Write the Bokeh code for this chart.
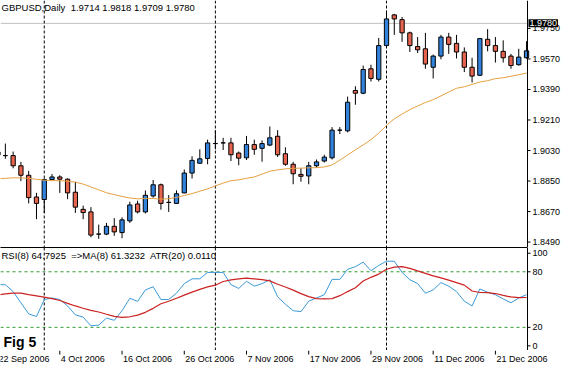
import pandas as pd
from bokeh.plotting import figure
from bokeh.layouts import column
from bokeh.models import Range1d, FixedTicker, Span, Label, LinearAxis, ColumnDataSource
from bokeh.embed import file_html
from bokeh.resources import INLINE
from bokeh.core.properties import value

# ---------------- data ----------------
dates = pd.bdate_range("2006-09-22", "2006-12-27")

opens = [1.9020, 1.9000, 1.9000, 1.8940, 1.8884, 1.8756,
         1.8741, 1.8859, 1.8874, 1.8861, 1.8784, 1.8683, 1.8668, 1.8537, 1.8537, 1.8583,
         1.8546, 1.8615, 1.8715, 1.8668, 1.8762, 1.8828, 1.8724, 1.8718, 1.8780, 1.8897,
         1.8955, 1.8983, 1.9071, 1.9075, 1.9075, 1.9015, 1.8987, 1.9065, 1.9043, 1.9062,
         1.9114, 1.9011, 1.8949, 1.8889, 1.8880, 1.8940, 1.8968, 1.8987, 1.9150, 1.9146,
         1.9384, 1.9368, 1.9512, 1.9450, 1.9649, 1.9830, 1.9802, 1.9724, 1.9643, 1.9630,
         1.9521, 1.9587, 1.9699, 1.9662, 1.9611, 1.9521, 1.9474, 1.9686, 1.9649, 1.9615,
         1.9587, 1.9536, 1.9577]
highs = [1.9060, 1.9071, 1.9024, 1.8963, 1.8910, 1.8780,
         1.8865, 1.8891, 1.8884, 1.8865, 1.8846, 1.8705, 1.8696, 1.8593, 1.8603, 1.8631,
         1.8636, 1.8728, 1.8734, 1.8794, 1.8856, 1.8835, 1.8767, 1.8795, 1.8918, 1.8996,
         1.9037, 1.9094, 1.9150, 1.9105, 1.9105, 1.9024, 1.9116, 1.9094, 1.9090, 1.9172,
         1.9150, 1.9049, 1.8963, 1.8925, 1.8963, 1.8977, 1.9005, 1.9168, 1.9168, 1.9348,
         1.9409, 1.9531, 1.9536, 1.9694, 1.9855, 1.9836, 1.9818, 1.9731, 1.9699, 1.9724,
         1.9596, 1.9712, 1.9724, 1.9712, 1.9638, 1.9577, 1.9694, 1.9746, 1.9699, 1.9680,
         1.9600, 1.9630, 1.9675]
lows = [1.8985, 1.8981, 1.8925, 1.8850, 1.8718, 1.8625,
        1.8662, 1.8856, 1.8780, 1.8743, 1.8662, 1.8625, 1.8518, 1.8509, 1.8531, 1.8527,
        1.8513, 1.8603, 1.8659, 1.8659, 1.8752, 1.8681, 1.8668, 1.8715, 1.8778, 1.8865,
        1.8953, 1.8949, 1.9037, 1.9033, 1.8968, 1.8943, 1.8974, 1.9005, 1.8964, 1.9056,
        1.8992, 1.8940, 1.8831, 1.8846, 1.8831, 1.8930, 1.8959, 1.8977, 1.9127, 1.9137,
        1.9300, 1.9362, 1.9437, 1.9437, 1.9643, 1.9712, 1.9671, 1.9611, 1.9605, 1.9512,
        1.9455, 1.9568, 1.9600, 1.9573, 1.9493, 1.9431, 1.9469, 1.9615, 1.9549, 1.9549,
        1.9512, 1.9531, 1.9572]
closes = [1.9005, 1.9000, 1.8940, 1.8884, 1.8752, 1.8718,
          1.8859, 1.8874, 1.8861, 1.8780, 1.8696, 1.8664, 1.8531, 1.8537, 1.8583, 1.8550,
          1.8621, 1.8709, 1.8668, 1.8766, 1.8828, 1.8718, 1.8724, 1.8775, 1.8897, 1.8972,
          1.8981, 1.9075, 1.9071, 1.9075, 1.9005, 1.8985, 1.9065, 1.9037, 1.9071, 1.9105,
          1.9005, 1.8949, 1.8893, 1.8878, 1.8940, 1.8963, 1.8991, 1.9150, 1.9150, 1.9315,
          1.9368, 1.9508, 1.9455, 1.9649, 1.9806, 1.9806, 1.9724, 1.9649, 1.9624, 1.9540,
          1.9587, 1.9699, 1.9656, 1.9611, 1.9521, 1.9469, 1.9690, 1.9649, 1.9615, 1.9577,
          1.9531, 1.9581, 1.9618]
price_ma = [1.8863, 1.8866, 1.8869, 1.8869, 1.8866, 1.8860,
            1.8855, 1.8852, 1.8852, 1.8849, 1.8843, 1.8832, 1.8815, 1.8798, 1.8781, 1.8770,
            1.8759, 1.8750, 1.8745, 1.8748, 1.8747, 1.8743, 1.8746, 1.8753, 1.8765, 1.8776,
            1.8790, 1.8804, 1.8821, 1.8838, 1.8852, 1.8857, 1.8866, 1.8874, 1.8891, 1.8908,
            1.8916, 1.8922, 1.8925, 1.8926, 1.8928, 1.8929, 1.8933, 1.8945, 1.8973, 1.9004,
            1.9034, 1.9063, 1.9094, 1.9133, 1.9178, 1.9217, 1.9245, 1.9271, 1.9293, 1.9313,
            1.9330, 1.9352, 1.9375, 1.9397, 1.9406, 1.9420, 1.9434, 1.9442, 1.9454, 1.9459,
            1.9468, 1.9477, 1.9487]
rsi = [66, 66, 58.6, 46.5, 34.5, 31.7,
       50, 51.7, 50, 43.1, 33.5, 31, 21.7, 22.4, 30, 27.6,
       38, 51.4, 48, 60.4, 63.8, 50, 50, 56.9, 67.2, 72.4,
       72.4, 79.3, 79.3, 79.3, 66.2, 62, 69.7, 64.5, 67.2, 71.4,
       53, 44.9, 38, 36.9, 48.3, 51.7, 55.2, 71.8, 71.8, 82.7,
       85.5, 90.4, 81.1, 86.9, 91.4, 91.4, 79.3, 71.4, 67.2, 56.9,
       60.4, 68.3, 64.5, 58.6, 48.3, 43.1, 61.4, 57.9, 55.2, 50.7,
       46.5, 51.7, 55.2]
rsi_ma = [55, 56.1, 56.9, 56.9, 55.4, 54,
          52.6, 51, 49, 45.9, 43.1, 40.6, 38.4, 36.6, 34.1, 31.8,
          30.8, 31.4, 33.2, 36.2, 40.5, 45.5, 48.2, 51.4, 54.8, 58,
          61, 63.7, 65.5, 69.5, 71.3, 72.4, 73.1, 72.4, 71.5, 70.2,
          66.5, 63.6, 60.2, 56.4, 53.2, 51, 50.7, 51, 54.2, 58.6,
          62.8, 70, 74, 77.5, 82.7, 85, 85.5, 83.6, 81, 78.3,
          75.6, 73.4, 71, 68.3, 65.6, 59.2, 57.6, 57.4, 56.5, 54.5,
          52.8, 52, 52.2]

price_ticks = [1.8490, 1.8670, 1.8850, 1.9030, 1.9210, 1.9390, 1.9570, 1.9750]
rsi_ticks = [0, 20, 80, 100]
rsi_levels = [20, 80]
last_price = 1.9780
header = "GBPUSD,Daily\u00a0 1.9714 1.9818 1.9709 1.9780"
rsi_header = "RSI(8) 64.7925\u00a0 =>MA(8) 61.3232\u00a0 ATR(20) 0.0110"
fig_caption = "Fig 5"
label_every = 8

# ---------------- styling / geometry ----------------
FONT = "Liberation Sans"
BULL, BEAR, DOJI = "#3282DC", "#E6644E", "#000000"
FW, W_ALL = 527, 561        # plotting width (up to price axis), full width
H1, H2, H3 = 247, 103, 14
X0, X1 = 0.375, 68.125      # visible bar span up to the price axis
XE = X0 + (X1 - X0) * W_ALL / FW
PX = (X1 - X0) / FW         # one pixel in bar units
Y1 = (1.8458, 1.99148)
Y2 = (-5.0, 106.2)

n = len(dates)
xs = list(range(n))
body_top = [max(o, c) for o, c in zip(opens, closes)]
body_bot = [min(o, c) for o, c in zip(opens, closes)]
colors = [BULL if c > o else (BEAR if c < o else DOJI) for o, c in zip(opens, closes)]
src = ColumnDataSource(dict(x=xs, high=highs, low=lows, top=body_top, bottom=body_bot,
                            color=colors, ma=price_ma, rsi=rsi, rsi_ma=rsi_ma))

month_starts = [i for i in range(1, n) if dates[i].month != dates[i - 1].month]
tick_idx = list(range(0, n, label_every))
tick_txt = [f"{dates[i].day} {dates[i].strftime('%b %Y')}" for i in tick_idx]

xr = Range1d(X0, XE)


def base_fig(fh, y_range):
    f = figure(frame_width=W_ALL, frame_height=fh, x_range=xr, y_range=y_range,
               output_backend="svg", toolbar_location=None,
               x_axis_location=None, y_axis_location=None,
               min_border_left=0, min_border_right=0, min_border_top=0, min_border_bottom=0)
    f.grid.visible = False
    f.outline_line_color = None
    f.background_fill_color = "white"
    f.border_fill_color = "white"
    return f


def border_axis(f, side):
    ax = LinearAxis(ticker=FixedTicker(ticks=[]), bounds=(X0, X1),
                    major_tick_in=0, major_tick_out=0, minor_tick_in=0, minor_tick_out=0,
                    major_label_standoff=0, axis_line_color="black")
    f.add_layout(ax, side)


def price_axis(f, ticks, labels):
    f.add_layout(Span(location=X1, dimension="height", line_color="black", line_width=1))
    f.segment(x0=[X1] * len(ticks), y0=ticks, x1=[X1 + 3 * PX] * len(ticks), y1=ticks,
              line_color="black", line_width=1)
    f.text(x=[X1] * len(ticks), y=ticks, text=labels, x_offset=5,
           text_align="left", text_baseline="middle", text_font=value(FONT),
           text_font_size="9px", text_color="black")


# ---------------- main price panel ----------------
p1 = base_fig(H1, Range1d(*Y1))
border_axis(p1, "below")

for m in month_starts:
    p1.add_layout(Span(location=m, dimension="height", line_color="black",
                       line_dash="3 2", line_width=1, level="underlay"))
p1.segment(x0=[X0], y0=[last_price], x1=[X1], y1=[last_price],
           line_color="#C0C0C0", line_width=1, level="underlay")

p1.segment(x0="x", y0="high", x1="x", y1="low", source=src, line_color="black", line_width=1)
p1.vbar(x="x", width=0.55, top="top", bottom="bottom", source=src,
        fill_color="color", line_color="black", line_width=1)
p1.line(x="x", y="ma", source=src, line_color="#E5A040", line_width=1)

price_axis(p1, price_ticks, [f"{t:.4f}" for t in price_ticks])

p1.add_layout(Label(x=X0, y=Y1[1], text=header, x_offset=1, y_offset=-1,
                    text_baseline="top", text_font=FONT, text_font_size="9.5px",
                    text_color="black"))
p1.add_layout(Label(x=X1, y=last_price, text=f"{last_price:.4f}", x_offset=1,
                    text_baseline="middle", text_align="left", text_font=FONT,
                    text_font_size="9px", text_color="white",
                    background_fill_color="black", padding=1))

# ---------------- RSI panel ----------------
p2 = base_fig(H2, Range1d(*Y2))
border_axis(p2, "above")
border_axis(p2, "below")

for m in month_starts:
    p2.add_layout(Span(location=m, dimension="height", line_color="black",
                       line_dash="3 2", line_width=1, level="underlay"))
p2.segment(x0=[X0] * len(rsi_levels), y0=rsi_levels, x1=[X1] * len(rsi_levels),
           y1=rsi_levels, line_color="#339933", line_dash="3 3", line_width=1,
           level="underlay")

p2.line(x="x", y="rsi", source=src, line_color="#3B9AD8", line_width=1)
p2.line(x="x", y="rsi_ma", source=src, line_color="#CC2222", line_width=1.2)

price_axis(p2, rsi_ticks, [str(t) for t in rsi_ticks])

p2.add_layout(Label(x=X0, y=Y2[1], text=rsi_header, x_offset=1, y_offset=-2,
                    text_baseline="top", text_font=FONT, text_font_size="9.5px",
                    text_color="black"))
p2.add_layout(Label(x=X0, y=Y2[0], text=fig_caption, x_offset=3, y_offset=1,
                    text_baseline="bottom", text_font=FONT, text_font_size="14px",
                    text_font_style="bold", text_color="black"))

# ---------------- date strip ----------------
p3 = figure(frame_width=W_ALL, frame_height=H3, x_range=xr, y_range=Range1d(0, 1),
            output_backend="svg", toolbar_location=None,
            x_axis_location=None, y_axis_location=None,
            min_border_left=0, min_border_right=0, min_border_top=0, min_border_bottom=0)
p3.grid.visible = False
p3.outline_line_color = None
p3.segment(x0=tick_idx, y0=[1.0] * len(tick_idx), x1=tick_idx, y1=[1 - 4 / H3] * len(tick_idx),
           line_color="black", line_width=1)
p3.text(x=tick_idx, y=[0.4] * len(tick_idx), text=tick_txt, x_offset=1,
        text_align="left", text_baseline="middle", text_font=value(FONT),
        text_font_size="9px", text_color="black")

layout = column(p1, p2, p3, spacing=0)
open("out.html", "w").write(file_html(layout, INLINE))
